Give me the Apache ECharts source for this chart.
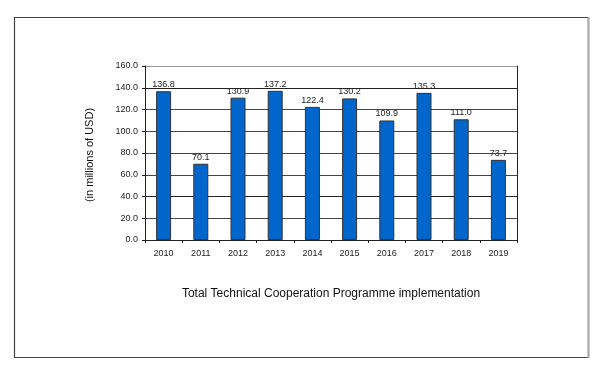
<!DOCTYPE html>
<html><head><meta charset="utf-8">
<script src="https://cdn.jsdelivr.net/npm/echarts@6/dist/echarts.min.js"></script>
<style>html,body{margin:0;padding:0;background:#fff}#c{width:603px;height:372px}</style>
</head><body><div id="c"></div>
<script>
const years = ['2010','2011','2012','2013','2014','2015','2016','2017','2018','2019'];
const values = [136.8, 70.1, 130.9, 137.2, 122.4, 130.2, 109.9, 135.3, 111.0, 73.7];
const yTicks = [0, 20, 40, 60, 80, 100, 120, 140, 160];
const titleText = 'Total Technical Cooperation Programme implementation';
const yName = '(in millions of USD)';

const chart = echarts.init(document.getElementById('c'), null, {renderer:'canvas'});
const font = 'Liberation Sans, Arial, sans-serif';
chart.setOption({
  animation: false,
  textStyle: {fontFamily: font},
  title: {text: titleText, left: 326, top: 283, textAlign: 'center',
    textStyle: {fontFamily: font, fontSize: 12, fontWeight: 'normal', color: '#111'}},
  grid: {left: 145, top: 66, width: 372, height: 174},
  graphic: [
    {type: 'rect', shape: {x: 14.5, y: 17.5, width: 574, height: 340}, style: {fill: null, stroke: '#444', lineWidth: 1.2}, silent: true},
    {type: 'line', shape: {x1: 588.5, y1: 17, x2: 588.5, y2: 358}, style: {stroke: '#aaa', lineWidth: 2}, silent: true},
    {type: 'text', x: 90, y: 155, rotation: Math.PI/2, style: {text: yName, fontFamily: font, fontSize: 11, fill: '#111', align: 'center', verticalAlign: 'middle'}}
  ],
  xAxis: {type: 'category', data: years, boundaryGap: true,
    axisLine: {lineStyle: {color: '#222', width: 1}},
    axisTick: {show: true, length: 3, lineStyle: {color: '#222'}},
    axisLabel: {fontFamily: font, fontSize: 9, color: '#222', margin: 9}},
  yAxis: [{type: 'value', min: yTicks[0], max: yTicks[yTicks.length-1], interval: 20,
    axisLine: {show: true, lineStyle: {color: '#222'}},
    axisTick: {show: true, length: 3, lineStyle: {color: '#222'}},
    axisLabel: {fontFamily: font, fontSize: 9, color: '#222', margin: 7, formatter: v => v.toFixed(1)},
    splitLine: {show: true, lineStyle: {color: ['#333','#444','#222','#444','#444','#444','#444','#222','#999'], width: 1}}},
    {type: 'value', position: 'right', min: 0, max: 160, interval: 20,
    axisLine: {show: true, lineStyle: {color: '#222'}}, axisTick: {show: false}, axisLabel: {show: false}, splitLine: {show: false}}],
  series: [{type: 'bar', data: values, barWidth: 15,
    itemStyle: {color: '#0066cc', borderColor: '#333', borderWidth: 1},
    label: {show: true, position: 'top', distance: 2, fontFamily: font, fontSize: 9, color: '#222',
      formatter: p => p.value.toFixed(1)}}]
});
</script></body></html>
